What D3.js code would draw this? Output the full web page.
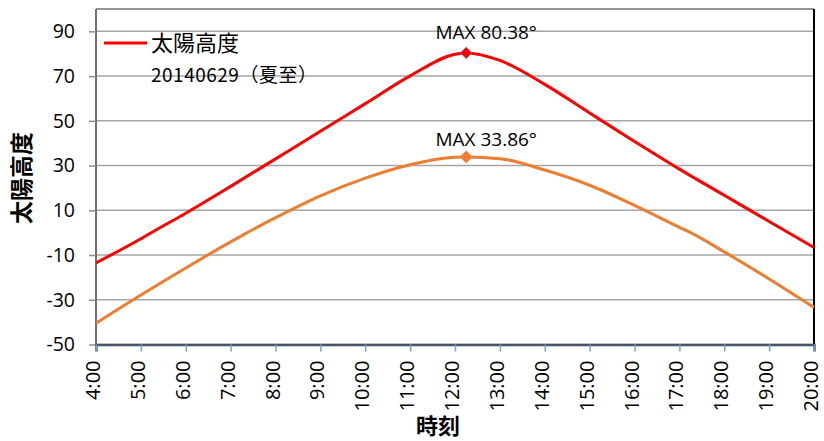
<!DOCTYPE html>
<html>
<head>
<meta charset="utf-8">
<script src="https://cdn.jsdelivr.net/npm/d3@7"></script>
<style>
  body { margin: 0; background: #fff; }
  svg text { font-family: "Open Sans", "Liberation Sans", sans-serif; fill: #000; }
  .cjk { font-family: "Noto Sans CJK JP", "Noto Sans CJK SC", sans-serif; }
</style>
</head>
<body>
<svg id="chart" width="824" height="441"></svg>
<script>
// Solar altitude (degrees) through the day
const summerTimes    = [4, 5, 5.25, 6, 7, 8, 9, 10, 11, 12, 12.25, 13, 14, 15, 16, 17, 18, 19, 20];
const summerAltitude = [-13.5, -2.7, 0.2, 8.7, 20.7, 33.0, 45.3, 57.7, 70.1, 79.8, 80.38, 77.0, 66.3, 53.5, 40.8, 28.4, 16.7, 5.0, -6.6];

const otherTimes    = [4, 5, 6, 7, 7.25, 8, 9, 10, 11, 12, 12.25, 13, 14, 15, 16, 17, 17.25, 18, 19, 20];
const otherAltitude = [-40.5, -27.9, -15.8, -4.1, -1.3, 6.7, 16.5, 24.4, 30.4, 33.7, 33.86, 33.1, 28.0, 21.2, 12.2, 2.4, 0, -8.6, -20.7, -33.4];

const summerPeak = { time: 12.25, value: 80.38 };
const otherPeak  = { time: 12.25, value: 33.86 };

const xTicks = [4, 5, 6, 7, 8, 9, 10, 11, 12, 13, 14, 15, 16, 17, 18, 19, 20];
const yTicks = [-50, -30, -10, 10, 30, 50, 70, 90];

const legendTitle = "太陽高度";
const legendDate  = "20140629（夏至）";
const yTitle = "太陽高度";
const xTitle = "時刻";

const svg = d3.select("#chart");
const plotLeft = 96, plotRight = 814, plotTop = 9, plotBottom = 344.5;

const x = d3.scaleLinear().domain([4, 20]).range([plotLeft, plotRight]);
const y = d3.scaleLinear().domain([-50, 100]).range([plotBottom, plotTop]);

// horizontal gridlines
svg.append("g").selectAll("line").data(yTicks).join("line")
  .attr("x1", plotLeft).attr("x2", plotRight)
  .attr("y1", d => y(d)).attr("y2", d => y(d))
  .attr("stroke", "#a6a6a6").attr("stroke-width", 1.5);

// plot frame
svg.append("line").attr("x1", plotLeft).attr("x2", plotRight).attr("y1", plotTop).attr("y2", plotTop)
  .attr("stroke", "#707070").attr("stroke-width", 1.5);
svg.append("line").attr("x1", plotLeft).attr("x2", plotLeft).attr("y1", plotTop).attr("y2", plotBottom)
  .attr("stroke", "#707070").attr("stroke-width", 2);
svg.append("line").attr("x1", plotRight).attr("x2", plotRight).attr("y1", plotTop).attr("y2", plotBottom)
  .attr("stroke", "#000").attr("stroke-width", 2);

// y axis ticks and labels (plain hyphen for negatives)
const yAxis = svg.append("g").attr("transform", `translate(${plotLeft},0)`)
  .call(d3.axisLeft(y).tickValues(yTicks).tickFormat(d => String(d)).tickSize(7).tickPadding(14));
yAxis.select(".domain").remove();
yAxis.selectAll(".tick line").attr("stroke", "#8c8c8c").attr("stroke-width", 1.5);
yAxis.selectAll(".tick text").attr("font-size", 19.5)
  .attr("font-family", "'Open Sans', 'Liberation Sans', sans-serif").attr("fill", "#000");

// x axis ticks and rotated labels
const xAxis = svg.append("g").attr("transform", `translate(0,${plotBottom})`)
  .call(d3.axisBottom(x).tickValues(xTicks).tickFormat(d => d + ":00").tickSize(7));
xAxis.select(".domain").attr("stroke", "#44546a").attr("stroke-width", 2.5);
xAxis.selectAll(".tick line").attr("stroke", "#7f9fc0").attr("stroke-width", 1.5);
xAxis.selectAll(".tick text")
  .attr("font-size", 20)
  .attr("font-family", "'Open Sans', 'Liberation Sans', sans-serif").attr("fill", "#000")
  .attr("text-anchor", "end")
  .attr("dy", "0.25em")
  .attr("y", 0)
  .attr("transform", "translate(-1.5,16) rotate(-90)");

// altitude lines
const line = d3.line().x(d => x(d[0])).y(d => y(d[1])).curve(d3.curveMonotoneX);

svg.append("path").datum(d3.zip(otherTimes, otherAltitude))
  .attr("d", line).attr("fill", "none")
  .attr("stroke", "#ed7d31").attr("stroke-width", 3).attr("stroke-linejoin", "round");
svg.append("path").datum(d3.zip(summerTimes, summerAltitude))
  .attr("d", line).attr("fill", "none")
  .attr("stroke", "#ff0000").attr("stroke-width", 3).attr("stroke-linejoin", "round");

// peak markers
const diamond = d3.symbol().type(d3.symbolDiamond2).size(90);
svg.append("path").attr("d", diamond)
  .attr("transform", `translate(${x(summerPeak.time)},${y(summerPeak.value)})`)
  .attr("fill", "#ff0000").attr("stroke", "#5b9bd5").attr("stroke-width", 0.8);
svg.append("path").attr("d", diamond)
  .attr("transform", `translate(${x(otherPeak.time)},${y(otherPeak.value)})`)
  .attr("fill", "#ed7d31").attr("stroke", "#ed7d31").attr("stroke-width", 0.8);

// peak labels
svg.append("text").attr("x", x(summerPeak.time) + 20).attr("y", y(summerPeak.value) - 14)
  .attr("text-anchor", "middle").attr("font-size", 19)
  .text(`MAX ${summerPeak.value.toFixed(2)}°`);
svg.append("text").attr("x", x(otherPeak.time) + 20).attr("y", y(otherPeak.value) - 11)
  .attr("text-anchor", "middle").attr("font-size", 19)
  .text(`MAX ${otherPeak.value.toFixed(2)}°`);

// legend
svg.append("line").attr("x1", 104).attr("x2", 147).attr("y1", 43).attr("y2", 43)
  .attr("stroke", "#ff0000").attr("stroke-width", 3);
svg.append("text").attr("class", "cjk").attr("x", 151).attr("y", 43)
  .attr("dy", "0.36em").attr("font-size", 22).text(legendTitle);
svg.append("text").attr("class", "cjk").attr("x", 151).attr("y", 75)
  .attr("dy", "0.36em").attr("font-size", 19)
  .attr("textLength", 166).attr("lengthAdjust", "spacing").text(legendDate);

// axis titles
svg.append("text").attr("class", "cjk")
  .attr("transform", "translate(22,178) rotate(-90)")
  .attr("text-anchor", "middle").attr("dy", "0.36em")
  .attr("font-size", 23).attr("font-weight", "bold").text(yTitle);
svg.append("text").attr("class", "cjk")
  .attr("x", 438).attr("y", 426)
  .attr("text-anchor", "middle").attr("dy", "0.36em")
  .attr("font-size", 22).attr("font-weight", "bold").text(xTitle);
</script>
</body>
</html>
